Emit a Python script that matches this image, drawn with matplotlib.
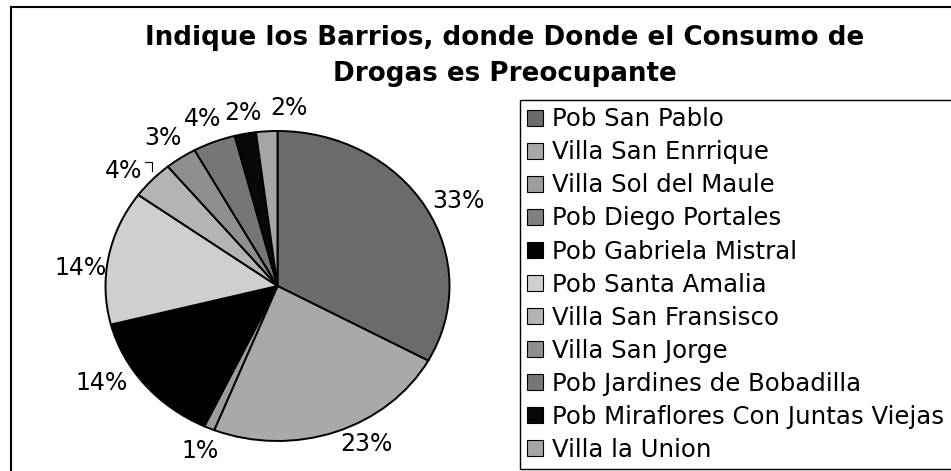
import numpy as np
import matplotlib
matplotlib.use('Agg')
import matplotlib.pyplot as plt
from matplotlib.patches import Rectangle

plt.rcParams['font.family'] = ['DejaVu Sans']

# data
barrios = ['Pob San Pablo', 'Villa San Enrrique', 'Villa Sol del Maule',
           'Pob Diego Portales', 'Pob Gabriela Mistral', 'Pob Santa Amalia',
           'Villa San Fransisco', 'Villa San Jorge', 'Pob Jardines de Bobadilla',
           'Pob Miraflores Con Juntas Viejas', 'Villa la Union']
porcentajes = [33, 23, 1, 0, 14, 14, 4, 3, 4, 2, 2]
colores = ['#6b6b6b', '#a9a9a9', '#9c9c9c', '#808080', '#000000', '#cfcfcf',
           '#b4b4b4', '#8f8f8f', '#767676', '#080808', '#a5a5a5']
titulo = 'Indique los Barrios, donde Donde el Consumo de\nDrogas es Preocupante'

# label placement (radius factor, angle nudge in degrees)
lab_r = [1.19, 1.145, 1.155, 0, 1.2, 1.15, 1.16, 1.166, 1.16, 1.135, 1.15]
lab_da = [-3, 7, 0.5, 0, -8, 5, 3.5, 0.8, 0.4, -0.5, -6.8]

W, H = 951, 471
fig = plt.figure(figsize=(W / 100, H / 100), dpi=100)

# pie axes: center (277, 286) px, rx 172, ry 155
cx, cy, rx, ry = 277.5, 286, 172, 155
kx, ky = 1.4, 1.25
ax = fig.add_axes([(cx - kx * rx) / W, 1 - (cy + ky * ry) / H,
                   2 * kx * rx / W, 2 * ky * ry / H])
wedges, _ = ax.pie(porcentajes, colors=colores, startangle=90, counterclock=False,
                   wedgeprops=dict(edgecolor='black', linewidth=1.4))
ax.set_aspect('auto')
ax.set_xlim(-kx, kx)
ax.set_ylim(-ky, ky)
ax.axis('off')

for w, p, r, da in zip(wedges, porcentajes, lab_r, lab_da):
    if p == 0:
        continue
    ang = np.deg2rad((w.theta1 + w.theta2) / 2 + da)
    ax.text(r * np.cos(ang), r * np.sin(ang), f'{p}%', ha='center', va='center',
            fontsize=17, clip_on=False)

# leader line for the small 4% slice on the left
ax.plot([-0.77, -0.73, -0.73], [0.80, 0.80, 0.74], color='black', lw=0.8,
        clip_on=False)

fig.text(505 / W, 1 - 56 / H, titulo, ha='center', va='center', fontsize=18.8,
         fontweight='bold', linespacing=1.5)

leg = fig.legend(wedges, barrios, loc='upper left',
                 bbox_to_anchor=(520 / W, 1 - 100 / H), borderaxespad=0,
                 fontsize=17.6, frameon=True, fancybox=False, framealpha=1,
                 edgecolor='black', handlelength=0.66, handleheight=0.66,
                 handletextpad=0.36, labelspacing=0.37, borderpad=0.3)
leg.get_frame().set_linewidth(1.0)
for h in leg.legend_handles:
    h.set_linewidth(0.8)

fig.patches.append(Rectangle((11 / W, -0.1), 1.0, 1.1 - 7 / H, fill=False,
                             edgecolor='black', linewidth=1.5,
                             transform=fig.transFigure, figure=fig))

fig.savefig('out.png', dpi=100)
